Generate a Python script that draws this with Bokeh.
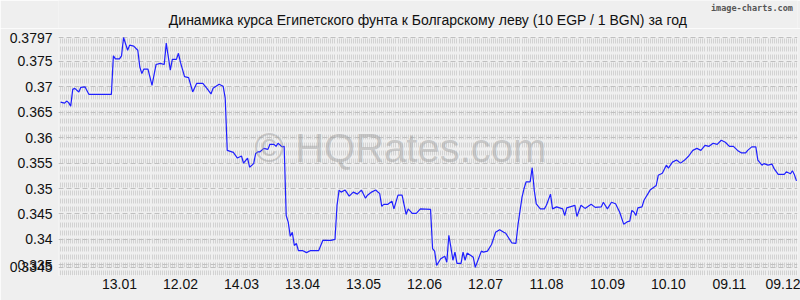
from bokeh.plotting import figure
from bokeh.models import Range1d, FixedTicker, Label, CustomJSTickFormatter
from bokeh.layouts import column
from bokeh.core.properties import value
from bokeh.embed import file_html
from bokeh.resources import INLINE

days = [1, 3, 4, 5, 6, 7, 8, 10, 11, 13,
        15, 26, 27, 28, 30, 31, 32, 34, 35, 37,
        39, 40, 41, 42, 44, 46, 48, 50, 52, 53,
        55, 56, 58, 59, 60, 62, 64, 66, 68, 71,
        73, 75, 76, 79, 81, 82, 83, 86, 88, 90,
        91, 93, 94, 96, 97, 98, 99, 101, 103, 104,
        106, 107, 108, 110, 111, 112, 113, 114, 115, 116,
        117, 118, 120, 122, 124, 128, 129, 130, 134, 136,
        137, 138, 139, 141, 143, 145, 147, 149, 151, 152,
        154, 156, 158, 159, 160, 162, 164, 165, 167, 169,
        171, 172, 174, 176, 178, 183, 184, 185, 186, 188,
        190, 191, 192, 193, 194, 195, 196, 198, 199, 200,
        201, 203, 204, 205, 208, 209, 211, 213, 215, 217,
        219, 220, 223, 225, 226, 228, 229, 230, 232, 233,
        234, 235, 237, 239, 240, 242, 243, 245, 248, 249,
        250, 254, 255, 257, 259, 262, 264, 267, 268, 270,
        272, 274, 276, 278, 280, 281, 282, 283, 284, 285,
        287, 288, 291, 294, 295, 297, 299, 300, 302, 304,
        306, 308, 310, 312, 314, 316, 318, 320, 322, 324,
        326, 328, 330, 332, 334, 336, 338, 339, 341, 343,
        344, 346, 347, 349, 351, 352, 354, 357, 358, 360,
        361, 362, 363]

rates = [0.3670, 0.3668, 0.3672, 0.3669, 0.3662, 0.3695, 0.3697, 0.3690, 0.3699, 0.3700,
         0.3685, 0.3685, 0.3761, 0.3755, 0.3755, 0.3761, 0.3797, 0.3772, 0.3782, 0.3780,
         0.3772, 0.3739, 0.3726, 0.3735, 0.3735, 0.3703, 0.3744, 0.3746, 0.3744, 0.3786,
         0.3733, 0.3754, 0.3754, 0.3766, 0.3748, 0.3720, 0.3718, 0.3690, 0.3707, 0.3707,
         0.3697, 0.3686, 0.3697, 0.3705, 0.3701, 0.3678, 0.3575, 0.3571, 0.3560, 0.3564,
         0.3550, 0.3560, 0.3542, 0.3549, 0.3569, 0.3572, 0.3572, 0.3579, 0.3577, 0.3587,
         0.3587, 0.3583, 0.3589, 0.3582, 0.3583, 0.3447, 0.3434, 0.3406, 0.3414, 0.3388,
         0.3392, 0.3378, 0.3378, 0.3374, 0.3378, 0.3378, 0.3388, 0.3398, 0.3398, 0.3400,
         0.3467, 0.3497, 0.3493, 0.3497, 0.3485, 0.3493, 0.3489, 0.3497, 0.3481, 0.3487,
         0.3493, 0.3497, 0.3490, 0.3465, 0.3469, 0.3469, 0.3475, 0.3460, 0.3487, 0.3487,
         0.3449, 0.3460, 0.3451, 0.3451, 0.3460, 0.3459, 0.3382, 0.3377, 0.3349, 0.3362,
         0.3367, 0.3355, 0.3408, 0.3385, 0.3359, 0.3375, 0.3353, 0.3353, 0.3375, 0.3359,
         0.3373, 0.3368, 0.3365, 0.3345, 0.3377, 0.3375, 0.3377, 0.3390, 0.3414, 0.3419,
         0.3414, 0.3412, 0.3393, 0.3392, 0.3428, 0.3483, 0.3500, 0.3513, 0.3513, 0.3541,
         0.3497, 0.3470, 0.3460, 0.3460, 0.3467, 0.3489, 0.3460, 0.3464, 0.3460, 0.3447,
         0.3462, 0.3467, 0.3445, 0.3467, 0.3461, 0.3469, 0.3463, 0.3464, 0.3473, 0.3460,
         0.3473, 0.3470, 0.3454, 0.3430, 0.3435, 0.3436, 0.3457, 0.3454, 0.3447, 0.3462,
         0.3464, 0.3477, 0.3497, 0.3506, 0.3526, 0.3530, 0.3546, 0.3540, 0.3552, 0.3556,
         0.3550, 0.3556, 0.3564, 0.3575, 0.3579, 0.3575, 0.3585, 0.3583, 0.3589, 0.3587,
         0.3595, 0.3591, 0.3583, 0.3583, 0.3575, 0.3570, 0.3570, 0.3575, 0.3582, 0.3582,
         0.3556, 0.3546, 0.3549, 0.3546, 0.3548, 0.3539, 0.3528, 0.3528, 0.3533, 0.3529,
         0.3535, 0.3527, 0.3515]

tick_days = [30, 60, 90, 120, 150, 180, 210, 240, 270, 300, 330, 360]
tick_labels = ["13.01", "12.02", "14.03", "13.04", "13.05", "12.06",
               "12.07", "11.08", "10.09", "10.10", "09.11", "09.12"]
y_ticks = [0.3797, 0.375, 0.37, 0.365, 0.36, 0.355, 0.35, 0.345, 0.34, 0.335, 0.3345]

title_text = "Динамика курса Египетского фунта к Болгарскому леву (10 EGP / 1 BGN) за год"
brand_text = "image-charts.com"
watermark_text = "© HQRates.com"

BG = "#efefef"
FONT = "Liberation Sans"

# ---- header strip (titles), pixel coordinates, y downwards ----
HEAD_H = 28
header = figure(width=800, height=HEAD_H, output_backend="svg", toolbar_location=None,
                x_range=Range1d(0, 800), y_range=Range1d(HEAD_H, 0),
                min_border=0, min_border_left=0, min_border_right=0,
                min_border_top=0, min_border_bottom=0)
header.axis.visible = False
header.grid.visible = False
header.outline_line_color = None
header.background_fill_color = BG
header.border_fill_color = BG
header.text(x=[400], y=[19], text=[title_text], text_align="center", text_baseline="middle",
            text_font=value(FONT), text_font_size="14px", text_color="#111111")
header.text(x=[795], y=[7], text=[brand_text], text_align="right", text_baseline="middle",
            text_font=value("DejaVu Sans Mono"), text_font_size="8.5px",
            text_font_style="bold", text_color="#555555")

# ---- main chart ----
x0, x1 = 0, 363.5
y0, y1 = 0.3329, 0.3799

p = figure(width=800, height=300 - HEAD_H, output_backend="svg", toolbar_location=None,
           x_range=Range1d(x0, x1), y_range=Range1d(y0, y1),
           min_border_left=58, min_border_right=3, min_border_top=36 - HEAD_H,
           min_border_bottom=25)
p.background_fill_color = BG
p.border_fill_color = BG
p.outline_line_color = None

# grids
p.xgrid[0].ticker = FixedTicker(ticks=list(range(0, 364)))
p.xgrid[0].grid_line_color = "#d2d2d2"
p.xgrid[0].grid_line_dash = "5 3"
p.xgrid[0].grid_line_width = 1
p.ygrid[0].ticker = FixedTicker(ticks=y_ticks)
p.ygrid[0].grid_line_color = "#c0c0c0"
p.ygrid[0].grid_line_dash = "5 3"

# axes
p.xaxis.ticker = FixedTicker(ticks=tick_days)
p.xaxis.major_label_overrides = dict(zip(tick_days, tick_labels))
p.yaxis.ticker = FixedTicker(ticks=y_ticks)
p.yaxis.formatter = CustomJSTickFormatter(code="return tick.toString();")
for ax in (p.xaxis, p.yaxis):
    ax.axis_line_color = None
    ax.major_tick_line_color = None
    ax.minor_tick_line_color = None
    ax.major_tick_out = 0
    ax.major_tick_in = 0
    ax.major_label_text_font = FONT
    ax.major_label_text_font_size = "14px"
    ax.major_label_text_color = "#111111"
p.yaxis.major_label_standoff = 6
p.xaxis.major_label_standoff = 3

# watermark
wm = Label(x=x0 + (400 - 58) / 739 * (x1 - x0), y=y1 - (147 - 36) / 239 * (y1 - y0),
           text=watermark_text, text_font=FONT, text_font_size="40px",
           text_color="#9a9a9a", text_alpha=0.45, text_align="center", text_baseline="middle")
p.add_layout(wm)

p.line(days, rates, line_color="#1f1fff", line_width=1.2)

layout = column(header, p, spacing=0)
open("out.html", "w").write(file_html(layout, INLINE))
